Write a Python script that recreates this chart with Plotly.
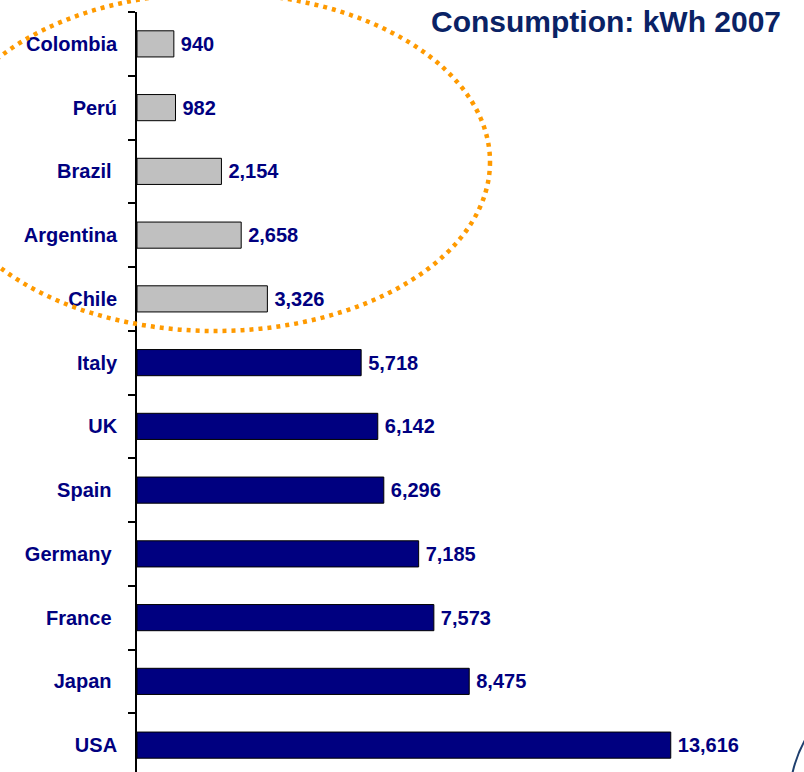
import plotly.graph_objects as go

# Per-capita electricity consumption, kWh, 2007
countries = ["Colombia", "Perú", "Brazil", "Argentina", "Chile",
             "Italy", "UK", "Spain", "Germany", "France", "Japan", "USA"]
consumption = [940, 982, 2154, 2658, 3326,
               5718, 6142, 6296, 7185, 7573, 8475, 13616]
tick_labels = ["Colombia", "Perú", "Brazil\u00a0", "Argentina", "Chile",
               "Italy", "UK", "Spain\u00a0", "Germany\u00a0", "France\u00a0",
               "Japan\u00a0", "USA"]
latin_america = {"Colombia", "Perú", "Brazil", "Argentina", "Chile"}

W, H = 804, 772
ML, MR, MT, MB = 137, 14, 12, 0
PW, PH = W - ML - MR, H - MT - MB


def px(x):
    return (x - ML) / PW


def py(y):
    return 1 - (y - MT) / PH


NAVY = "#000080"
FONT = "Liberation Sans, Arial, sans-serif"

bar_colors = ["#C0C0C0" if c in latin_america else NAVY for c in countries]

fig = go.Figure(go.Bar(
    x=consumption,
    y=countries,
    orientation="h",
    width=0.41,
    marker=dict(color=bar_colors, line=dict(color="#000000", width=1)),
    texttemplate="\u2009%{x:,}",
    textposition="outside",
    textfont=dict(family=FONT, size=20, color=NAVY, weight="bold"),
    cliponaxis=False,
    hoverinfo="skip",
))

fig.update_layout(
    width=W, height=H,
    margin=dict(l=ML, r=MR, t=MT, b=MB, pad=0),
    paper_bgcolor="white",
    plot_bgcolor="white",
    showlegend=False,
    xaxis=dict(range=[0, PW / 0.0392], visible=False),
    yaxis=dict(
        type="category",
        categoryorder="array",
        categoryarray=countries,
        range=[len(countries) - 1 + (PH / 63.75 - len(countries)) + 0.5, -0.5],
        tickmode="array",
        tickvals=countries,
        ticktext=tick_labels,
        tickson="boundaries",
        ticks="outside",
        ticklen=7,
        tickwidth=1.5,
        tickcolor="#000000",
        showline=True,
        linecolor="#000000",
        linewidth=1.8,
        showgrid=False,
        zeroline=False,
        ticklabelstandoff=14,
        tickfont=dict(family=FONT, size=20, color=NAVY, weight="bold"),
    ),
    annotations=[dict(
        text="Consumption: kWh 2007",
        xref="paper", yref="paper",
        x=px(783), y=py(3),
        xanchor="right", yanchor="top",
        showarrow=False,
        font=dict(family=FONT, size=30, color="#0A2265", weight="bold"),
    )],
    shapes=[
        # dotted ellipse grouping the Latin American countries
        dict(type="circle", xref="paper", yref="paper",
             x0=px(-60), x1=px(490), y0=py(331), y1=py(-7),
             line=dict(color="#FF9A00", width=4.5, dash="4px,5px"),
             layer="above"),
        # decorative arc in the lower right corner
        dict(type="path", xref="paper", yref="paper",
             path=(f"M {px(792)} {py(775)} Q {px(797)} {py(752)} "
                   f"{px(808)} {py(735)}"),
             line=dict(color="#1F3F6E", width=2),
             layer="above"),
    ],
)

fig.write_html("out.html")
